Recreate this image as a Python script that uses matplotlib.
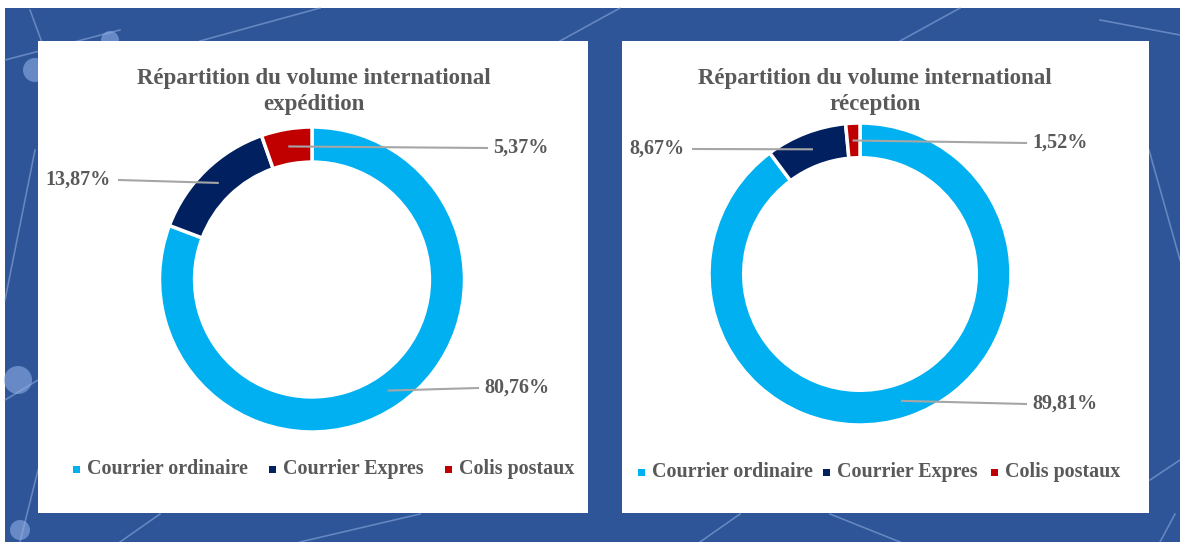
import numpy as np
import matplotlib
matplotlib.use("Agg")
import matplotlib.pyplot as plt
from matplotlib.patches import Rectangle, Circle

# ---- data ----
categories = ["Courrier ordinaire", "Courrier Expres", "Colis postaux"]
expedition = [80.76, 13.87, 5.37]
reception = [89.81, 8.67, 1.52]
titles = ["Répartition du volume international\nexpédition",
          "Répartition du volume international\nréception"]
colors = ["#00B0F0", "#002060", "#C00000"]

W, H = 1180, 542
fig = plt.figure(figsize=(W / 100, H / 100), dpi=100)
fig.patch.set_facecolor("white")
ax = fig.add_axes([0, 0, 1, 1])

def Y(y):  # image y (top-down) -> data y (bottom-up)
    return H - y

# background
ax.add_patch(Rectangle((5, 0), W - 5, H - 8, facecolor="#2D5597", edgecolor="none", zorder=0))
# decorative network lines
deco = [((5, 60), (120, 30)), ((30, 10), (100, 200)), ((5, 300), (35, 150)), ((5, 400), (38, 380)),
        ((20, 542), (38, 470)), ((120, 542), (160, 514)), ((300, 542), (420, 514)),
        ((700, 542), (740, 514)), ((830, 514), (900, 542)), ((1150, 480), (1180, 460)),
        ((1160, 542), (1175, 514)), ((1149, 150), (1180, 260)), ((200, 41), (320, 8)),
        ((560, 41), (620, 8)), ((900, 41), (960, 8)), ((1100, 20), (1180, 35))]
for (x0, y0), (x1, y1) in deco:
    ax.plot([x0, x1], [Y(y0), Y(y1)], color="#9DB8EA", lw=1.2, alpha=0.5, zorder=0.5)
for (cx, cy, r) in [(35, 70, 12), (18, 380, 14), (20, 530, 10), (110, 40, 9)]:
    ax.add_patch(Circle((cx, Y(cy)), r, facecolor="#8FAEE6", edgecolor="none", alpha=0.6, zorder=0.6))

# panels (x0, y0_top, x1, y1_bottom)
panels = [(38, 41, 588, 513), (622, 41, 1149, 513)]
for (x0, y0, x1, y1) in panels:
    ax.add_patch(Rectangle((x0, Y(y1)), x1 - x0, y1 - y0, facecolor="white", edgecolor="none", zorder=1))

centers = [(312, 279.5), (860, 274)]
radii = [152.5, 151]
title_pos = [(314, 91.5), (875, 91.5)]
# label text positions (image coords) and alignment for each slice
label_pos = [
    [(484, 388, "left"), (111, 180, "right"), (493, 148, "left")],
    [(1032, 404, "left"), (685, 149, "right"), (1032, 143, "left")],
]
legend_y = [469, 472]
legend_x = [[76, 272, 448], [641, 826, 994]]
txt_color = "#595959"
font = "Liberation Serif"

for i, vals in enumerate([expedition, reception]):
    cx, cy = centers[i]
    R = radii[i]
    wedges, _ = ax.pie(vals, colors=colors, startangle=90, counterclock=False,
                       center=(cx, Y(cy)), radius=R,
                       wedgeprops=dict(width=R * 0.23, edgecolor="white", linewidth=2.5))
    for w in wedges:
        w.set_zorder(2)
    for j, w in enumerate(wedges):
        mid = np.deg2rad((w.theta1 + w.theta2) / 2)
        rm = R * (1 - 0.115)
        axp = cx + rm * np.cos(mid)
        ayp = Y(cy) + rm * np.sin(mid)
        lx, ly, ha = label_pos[i][j]
        ex = lx - 6 if ha == "left" else lx + 8
        ax.plot([axp, ex], [ayp, Y(ly)], color="#A6A6A6", lw=1.5, zorder=3)
        ax.text(lx, Y(ly), f"{vals[j]:.2f}".replace(".", ",") + "%", ha=ha, va="center",
                fontsize=14.5, color=txt_color, family=font, fontweight="bold", zorder=4)
    tx, ty = title_pos[i]
    ax.text(tx, Y(ty), titles[i], ha="center", va="center", fontsize=16.5, color=txt_color,
            family=font, fontweight="bold", linespacing=1.3, zorder=4)
    for k, cat in enumerate(categories):
        lx = legend_x[i][k]
        ax.add_patch(Rectangle((lx - 3.5, Y(legend_y[i]) - 3.5), 7, 7, facecolor=colors[k],
                               edgecolor="none", zorder=4))
        ax.text(lx + 11, Y(legend_y[i]), cat, ha="left", va="center", fontsize=14.4,
                color=txt_color, family=font, fontweight="bold", zorder=4)

ax.set_xlim(0, W)
ax.set_ylim(0, H)
ax.set_aspect("equal")
ax.axis("off")

fig.savefig("out.png", dpi=100, facecolor=fig.get_facecolor())
